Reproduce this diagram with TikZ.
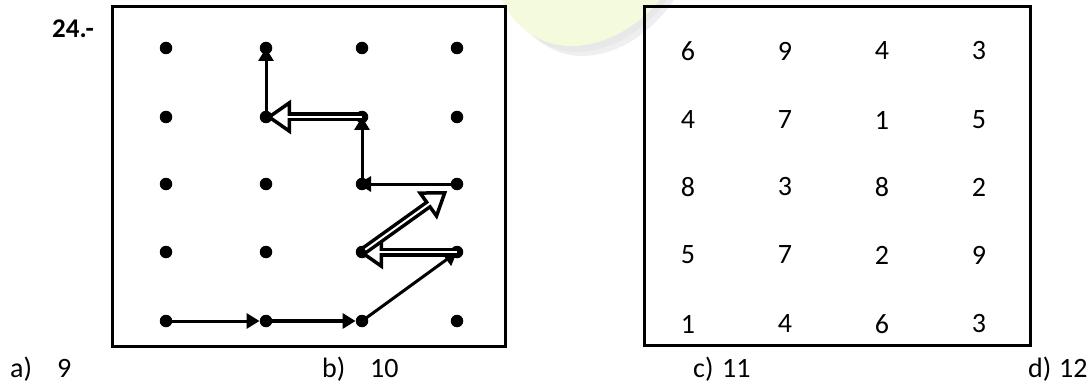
\documentclass[tikz,border=0pt]{standalone}
\usepackage{fontspec}
\setmainfont{Carlito}
\usetikzlibrary{arrows.meta}
\definecolor{wmyellow}{RGB}{244,250,220}
\definecolor{wmshadow}{RGB}{228,228,228}
\begin{document}
\begin{tikzpicture}[x=1pt,y=-1pt,
  frame/.style={draw=black,line width=3pt},
  gdot/.style={circle,fill=black,inner sep=0pt,minimum size=12.5pt},
  num/.style={font=\fontsize{28}{31}\selectfont,inner sep=0pt},
  lab/.style={font=\fontsize{28}{31}\selectfont,inner sep=0pt,anchor=base west},
  thinarrow/.style={line width=3pt,-{Triangle[length=13pt,width=15pt]}},
  dblarrow/.style={line width=9pt,-{Triangle[fill=white,length=25pt,width=34pt,line width=3.5pt]}},
  dblinner/.style={white,line width=2pt}]
\useasboundingbox (0,0) rectangle (1089,385);
% watermark
\fill[wmshadow,opacity=0.6] (510,0) .. controls (523,32) and (548,56) .. (582,56) .. controls (618,56) and (652,32) .. (674,0) -- cycle;
\fill[wmshadow,opacity=0.6] (506,0) .. controls (519,30) and (544,52) .. (577,52) .. controls (612,52) and (646,29) .. (667,0) -- cycle;
\fill[wmyellow] (502,0) .. controls (515,28) and (540,46) .. (572,46) .. controls (605,46) and (640,25) .. (660,0) -- cycle;
% frames
\draw[frame] (112,7) rectangle (505,346);
\draw[frame] (644,7) rectangle (1030,345);
% title
\node[lab,font=\fontsize{27}{30}\selectfont\bfseries] (title) at (52,38) {24.-};
% dots
\foreach \c/\x in {1/166,2/266,3/362,4/457}{
  \foreach \r/\y in {1/48,2/117,3/184,4/252,5/321}{
    \node[gdot] (d\c\r) at (\x,\y) {};
  }
}
% thin arrows
\draw[thinarrow] (d15.center) -- (d25);
\draw[thinarrow,line width=3.5pt] (d25.center) -- (d35);
\draw[thinarrow] (d35.center) to[shorten >=4pt] (d44.center);
% double arrow 4->3 row 4
\draw[dblarrow,shorten >=-4pt] (d44.center) -- (d34.center);
\draw[dblinner,shorten >=14pt] (d44.center) -- (d34.center);
% double diagonal
\draw[dblarrow,shorten >=12pt] (d34.center) -- (d43.center);
\draw[dblinner,shorten >=30pt,shorten <=4pt] (d34.center) -- (d43.center);
% thin
\draw[thinarrow,shorten >=-4pt] (d43.center) -- (d33.center);
\draw[thinarrow] (d33.center) -- (d32.center);
% double arrow row 2
\draw[dblarrow] (d32.center) -- (d22.center);
\draw[dblinner,shorten >=18pt] (d32.center) -- (d22.center);
\draw[thinarrow] (d22.center) -- (d21.center);
% numbers
\foreach \r/\y/\a/\b/\cc/\dd in {1/51/6/9/4/3,2/120/4/7/1/5,3/187/8/3/8/2,4/255/5/7/2/9,5/324/1/4/6/3}{
  \node[num] (n1\r) at (688,\y) {\a};
  \node[num] (n2\r) at (785,\y) {\b};
  \node[num] (n3\r) at (882,\y) {\cc};
  \node[num] (n4\r) at (979,\y) {\dd};
}
% answer labels
\node[lab] (la) at (10,377) {a)};
\node[lab] (va) at (57,377) {9};
\node[lab] (lb) at (322,377) {b)};
\node[lab] (vb) at (370,377) {10};
\node[lab] (lc) at (693,377) {c)};
\node[lab] (vc) at (722,377) {11};
\node[lab] (ld) at (1028,377) {d)};
\node[lab] (vd) at (1059,377) {12};
\end{tikzpicture}
\end{document}
